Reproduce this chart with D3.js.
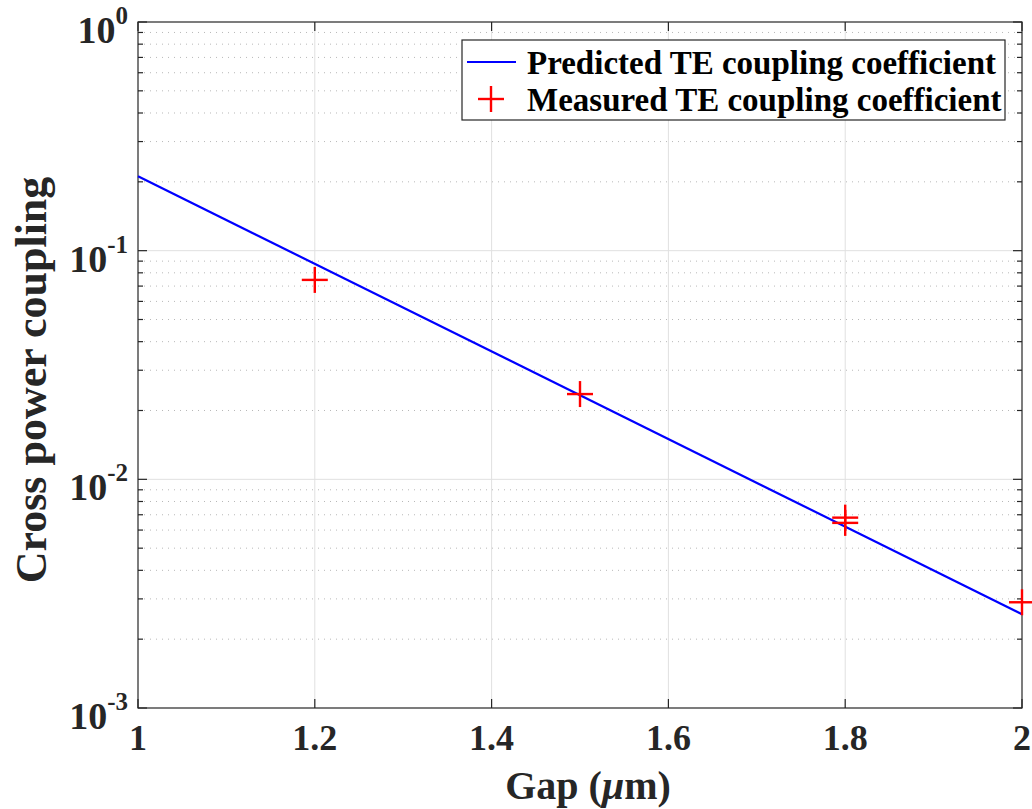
<!DOCTYPE html>
<html><head><meta charset="utf-8">
<script src="https://cdn.jsdelivr.net/npm/d3@7"></script>
<style>body{margin:0;background:#fff;}svg{display:block;font-family:"Liberation Serif","Times New Roman",serif;font-weight:bold;}</style>
</head><body>
<svg id="c" width="1032" height="809"></svg>
<script>
const predictedGap = [1.0, 2.0];
const predictedCoupling = [0.2116, 0.00257];
const measuredGap = [1.2, 1.5, 1.8, 1.8, 2.0];
const measuredCoupling = [0.0745, 0.0236, 0.0068, 0.00645, 0.0029];
const xTicks = [1, 1.2, 1.4, 1.6, 1.8, 2];
const yDecades = [-3, -2, -1, 0];
const legendLabels = ["Predicted TE coupling coefficient", "Measured TE coupling coefficient"];

const svg = d3.select("#c");
const L = 138, R = 1022, T = 22, B = 708;
const x = d3.scaleLinear().domain([1, 2]).range([L, R]);
const y = d3.scaleLog().domain([1e-3, 1]).range([B, T]);

const minor = [];
for (let d = -3; d < 0; d++) for (let k = 2; k <= 9; k++) minor.push(k * Math.pow(10, d));
const g = svg.append("g");
g.selectAll(".mg").data(minor).enter().append("line")
  .attr("x1", L).attr("x2", R).attr("y1", d => y(d)).attr("y2", d => y(d))
  .attr("stroke", "#b8b8b8").attr("stroke-width", 1).attr("stroke-dasharray", "1,5");
g.selectAll(".My").data(yDecades.slice(1, 3)).enter().append("line")
  .attr("x1", L).attr("x2", R).attr("y1", d => y(Math.pow(10, d))).attr("y2", d => y(Math.pow(10, d)))
  .attr("stroke", "#e0e0e0").attr("stroke-width", 1);
g.selectAll(".Mx").data(xTicks.slice(1, -1)).enter().append("line")
  .attr("x1", d => x(d)).attr("x2", d => x(d)).attr("y1", T).attr("y2", B)
  .attr("stroke", "#e0e0e0").attr("stroke-width", 1);

svg.append("rect").attr("x", L).attr("y", T).attr("width", R - L).attr("height", B - T)
  .attr("fill", "none").attr("stroke", "#262626").attr("stroke-width", 1.2);

const tk = svg.append("g").attr("stroke", "#262626").attr("stroke-width", 1.2);
yDecades.forEach(d => {
  const yy = y(Math.pow(10, d));
  tk.append("line").attr("x1", L).attr("x2", L + 9).attr("y1", yy).attr("y2", yy);
  tk.append("line").attr("x1", R).attr("x2", R - 9).attr("y1", yy).attr("y2", yy);
});
minor.forEach(v => {
  const yy = y(v);
  tk.append("line").attr("x1", L).attr("x2", L + 5).attr("y1", yy).attr("y2", yy);
  tk.append("line").attr("x1", R).attr("x2", R - 5).attr("y1", yy).attr("y2", yy);
});
xTicks.forEach(v => {
  const xx = x(v);
  tk.append("line").attr("x1", xx).attr("x2", xx).attr("y1", B).attr("y2", B - 9);
  tk.append("line").attr("x1", xx).attr("x2", xx).attr("y1", T).attr("y2", T + 9);
});

svg.selectAll(".xl").data(xTicks).enter().append("text")
  .attr("x", d => x(d)).attr("y", B + 42).attr("text-anchor", "middle")
  .attr("font-size", 36).attr("fill", "#262626").text(d => d3.format("~g")(d));
yDecades.forEach(d => {
  const t = svg.append("text").attr("x", L - 10).attr("y", y(Math.pow(10, d)) + 21)
    .attr("text-anchor", "end").attr("fill", "#262626").attr("font-size", 38);
  t.append("tspan").text("10");
  t.append("tspan").attr("dy", -19).attr("font-size", 25).text(d === 0 ? "0" : "-" + (-d));
});

svg.append("text").attr("x", (L + R) / 2 + 8).attr("y", 799).attr("text-anchor", "middle")
  .attr("font-size", 40).attr("fill", "#262626")
  .html('Gap (<tspan font-style="italic">\u03bc</tspan>m)');
svg.append("text").attr("transform", `translate(46,${(T + B) / 2 + 15}) rotate(-90)`)
  .attr("text-anchor", "middle").attr("font-size", 44).attr("fill", "#262626")
  .text("Cross power coupling");

const line = d3.line().x(d => x(d[0])).y(d => y(d[1]));
svg.append("path").datum(predictedGap.map((v, i) => [v, predictedCoupling[i]]))
  .attr("d", line).attr("fill", "none").attr("stroke", "#0000ff").attr("stroke-width", 2.2);

const ms = 13;
const mk = svg.selectAll(".m").data(measuredGap.map((v, i) => [v, measuredCoupling[i]])).enter().append("g")
  .attr("transform", d => `translate(${x(d[0])},${y(d[1])})`).attr("stroke", "#ff0000").attr("stroke-width", 2.4);
mk.append("line").attr("x1", -ms).attr("x2", ms);
mk.append("line").attr("y1", -ms).attr("y2", ms);

const lg = svg.append("g");
lg.append("rect").attr("x", 462).attr("y", 40).attr("width", 543).attr("height", 80)
  .attr("fill", "#fff").attr("stroke", "#262626").attr("stroke-width", 1.2);
lg.append("line").attr("x1", 467).attr("x2", 516).attr("y1", 62).attr("y2", 62)
  .attr("stroke", "#0000ff").attr("stroke-width", 2.2);
lg.append("line").attr("x1", 478).attr("x2", 504).attr("y1", 99).attr("y2", 99).attr("stroke", "#ff0000").attr("stroke-width", 2.4);
lg.append("line").attr("x1", 491).attr("x2", 491).attr("y1", 86).attr("y2", 112).attr("stroke", "#ff0000").attr("stroke-width", 2.4);
lg.selectAll(".lt").data(legendLabels).enter().append("text")
  .attr("x", 527).attr("y", (d, i) => 74 + i * 37).attr("font-size", 33).attr("fill", "#000").text(d => d);
</script>
</body></html>
